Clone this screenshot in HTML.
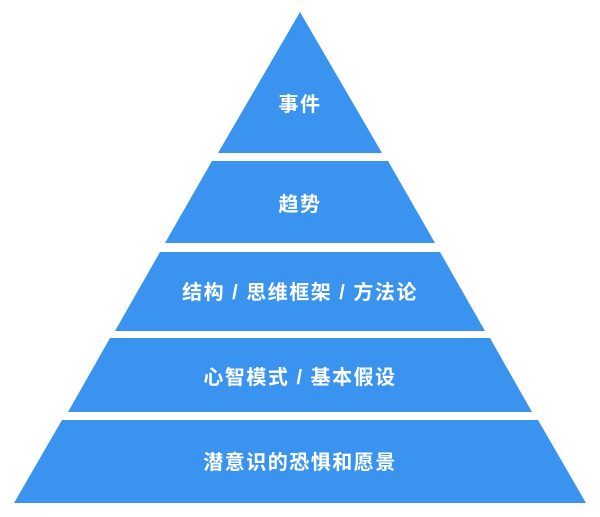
<!DOCTYPE html>
<html><head><meta charset="utf-8"><style>
html,body{margin:0;padding:0;background:#fff;width:600px;height:517px;overflow:hidden}
svg{display:block}
text{font-family:"Liberation Sans","Noto Sans CJK SC",sans-serif;font-weight:bold;font-size:20px;fill:#fff;letter-spacing:1.5px}
</style></head><body>
<svg width="600" height="517" viewBox="0 0 600 517">
<g fill="#3a94ef">
<polygon points="300,12 382,153 218,153"/>
<polygon points="212,161 388,161 435,243 165,243"/>
<polygon points="160,252 440,252 485,331 115,331"/>
<polygon points="110,338 490,338 532,412 68,412"/>
<polygon points="62,420 538,420 586,503 14,503"/>
</g>
<g text-anchor="middle" dominant-baseline="central">
<text x="300" y="105">事件</text>
<text x="300" y="205">趋势</text>
<text x="300" y="293">结构 / 思维框架 / 方法论</text>
<text x="300" y="378">心智模式 / 基本假设</text>
<text x="300" y="463">潜意识的恐惧和愿景</text>
</g>
</svg>
</body></html>
